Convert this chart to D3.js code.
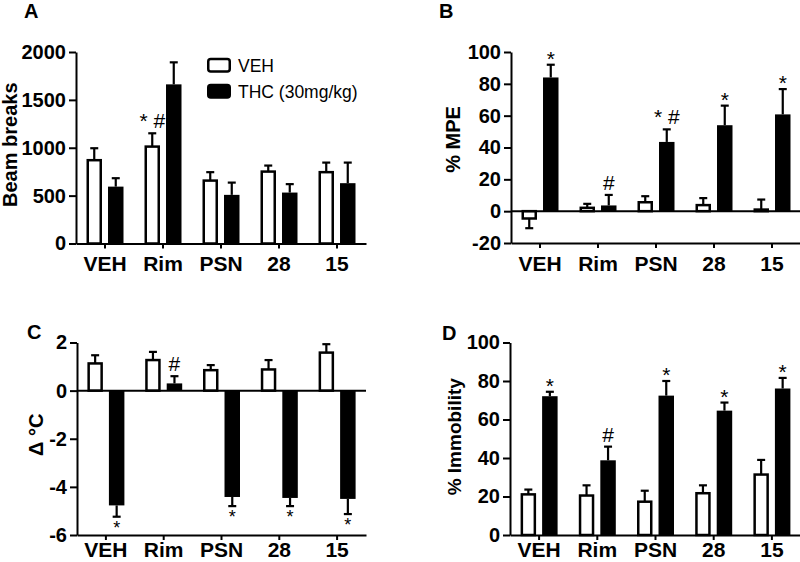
<!DOCTYPE html>
<html>
<head>
<meta charset="utf-8">
<script src="https://cdn.jsdelivr.net/npm/d3@7"></script>
<style>
  html, body { margin: 0; padding: 0; background: #fff; }
  svg { display: block; }
  text { font-family: "Liberation Sans", Arial, Helvetica, sans-serif; }
</style>
</head>
<body>
<svg id="chart" width="800" height="562"></svg>
<script>
// ---------- DATA ----------
const categories = ["VEH", "Rim", "PSN", "28", "15"];
const groups = ["VEH", "THC (30mg/kg)"];

// Panel A: Beam breaks
const beamVeh    = [870, 1012, 657, 751, 745];
const beamVehErr = [125, 139, 88, 63, 100];
const beamThc    = [594, 1662, 508, 532, 630];
const beamThcErr = [88, 230, 128, 88, 215];
const beamVehMarks = ["", "* #", "", "", ""];
const beamThcMarks = ["", "", "", "", ""];
const beamTicks = [0, 500, 1000, 1500, 2000];

// Panel B: % MPE
const mpeVeh    = [-4.6, 2.1, 5.6, 3.8, 1.0];
const mpeVehErr = [6.1, 2.5, 3.8, 4.4, 6.3];
const mpeThc    = [84, 3.6, 43.5, 54, 60.8];
const mpeThcErr = [8, 6.6, 7.9, 12.3, 15.9];
const mpeVehMarks = ["", "", "", "", ""];
const mpeThcMarks = ["*", "#", "* #", "*", "*"];
const mpeTicks = [-20, 0, 20, 40, 60, 80, 100];

// Panel C: delta temperature
const tempVeh    = [1.13, 1.27, 0.85, 0.88, 1.58];
const tempVehErr = [0.34, 0.34, 0.21, 0.39, 0.35];
const tempThc    = [-4.77, 0.3, -4.42, -4.46, -4.5];
const tempThcErr = [0.47, 0.3, 0.38, 0.34, 0.63];
const tempVehMarks = ["", "", "", "", ""];
const tempThcMarks = ["*", "#", "*", "*", "*"];
const tempTicks = [-6, -4, -2, 0, 2];

// Panel D: % Immobility
const immVeh    = [21.1, 20.5, 17.3, 21.7, 31.4];
const immVehErr = [2.5, 5.3, 5.7, 4.1, 7.6];
const immThc    = [72.1, 38.8, 72.4, 64.6, 76.1];
const immThcErr = [2.3, 7.1, 7.6, 4.2, 5.5];
const immVehMarks = ["", "", "", "", ""];
const immThcMarks = ["*", "#", "*", "*", "*"];
const immTicks = [0, 20, 40, 60, 80, 100];

// ---------- DRAW ----------
const svg = d3.select("#chart");

function panel(cfg) {
  const x = d3.scaleBand().domain(categories).range([cfg.x0, cfg.x1]);
  const inner = d3.scaleBand().domain(groups).range([-18.5, 18.5]).paddingInner(0.28);
  const y = d3.scaleLinear().domain(cfg.domain).range([cfg.yb, cfg.yt]);
  const g = svg.append("g");

  const series = [
    { key: groups[0], vals: cfg.veh, errs: cfg.vehErr, marks: cfg.vehMarks, fill: "#fff" },
    { key: groups[1], vals: cfg.thc, errs: cfg.thcErr, marks: cfg.thcMarks, fill: "#000" }
  ];

  series.forEach(s => {
    const rows = categories.map((c, i) => ({ c, v: s.vals[i], e: s.errs[i], m: s.marks[i] }));
    const cx = d => x(d.c) + x.bandwidth() / 2 + inner(s.key) + inner.bandwidth() / 2;
    const white = s.fill === "#fff";
    const sw = white ? 2.5 : 0;
    // error bars (outward side only)
    const eg = g.append("g").attr("stroke", "#000").attr("stroke-width", 2.2);
    rows.forEach(d => {
      const dir = d.v >= 0 ? 1 : -1;
      const y1 = y(d.v), y2 = y(d.v + dir * d.e);
      eg.append("line").attr("x1", cx(d)).attr("x2", cx(d)).attr("y1", y1).attr("y2", y2);
      eg.append("line").attr("x1", cx(d) - 4).attr("x2", cx(d) + 4).attr("y1", y2).attr("y2", y2);
    });
    // bars
    g.append("g").selectAll("rect").data(rows).join("rect")
      .attr("x", d => cx(d) - inner.bandwidth() / 2 + sw / 2)
      .attr("width", inner.bandwidth() - sw)
      .attr("y", d => Math.min(y(d.v), y(0)))
      .attr("height", d => Math.abs(y(d.v) - y(0)))
      .attr("fill", s.fill)
      .attr("stroke", white ? "#000" : "none")
      .attr("stroke-width", sw);
    // significance marks
    g.append("g").selectAll("text").data(rows.filter(d => d.m)).join("text")
      .attr("x", d => cx(d))
      .attr("y", d => {
        const dir = d.v >= 0 ? 1 : -1;
        const ye = y(d.v + dir * d.e);
        if (dir < 0) return ye + 17;
        return d.m === "*" ? ye + 1 : ye - 5;
      })
      .attr("text-anchor", "middle")
      .attr("font-size", d => d.v >= 0 ? 21 : 18)
      .text(d => d.m);
  });

  // zero line
  if (cfg.domain[0] < 0) {
    g.append("line").attr("x1", cfg.x0).attr("x2", cfg.x1)
      .attr("y1", y(0)).attr("y2", y(0)).attr("stroke", "#000").attr("stroke-width", 2);
  }

  // axes
  const ya = g.append("g").attr("transform", `translate(${cfg.x0},0)`)
    .call(d3.axisLeft(y).tickValues(cfg.ticks).tickFormat(d => String(d))
      .tickSize(7).tickPadding(3).tickSizeOuter(0));
  const xa = g.append("g").attr("transform", `translate(0,${cfg.yb})`)
    .call(d3.axisBottom(x).tickSize(5).tickPadding(cfg.xPad).tickSizeOuter(0));
  [ya, xa].forEach(a => {
    a.selectAll("path, line").attr("stroke", "#000").attr("stroke-width", 2);
    a.selectAll("text").attr("fill", "#000").attr("font-weight", "bold")
      .attr("font-family", "Liberation Sans, Arial, sans-serif");
  });
  ya.selectAll("text").attr("font-size", 20);
  xa.selectAll("text").attr("font-size", 21);

  // y title
  g.append("text")
    .attr("transform", `translate(${cfg.titleX},${(cfg.yb + cfg.yt) / 2 + cfg.titleDy}) rotate(-90)`)
    .attr("text-anchor", "middle").attr("font-weight", "bold").attr("font-size", cfg.titleSize)
    .text(cfg.title);

  // panel letter
  g.append("text").attr("x", cfg.lx).attr("y", cfg.ly)
    .attr("font-weight", "bold").attr("font-size", 20).text(cfg.letter);
}

panel({ letter: "A", lx: 24, ly: 18, x0: 76, x1: 366, yb: 243.5, yt: 52, domain: [0, 2000], ticks: beamTicks,
  veh: beamVeh, vehErr: beamVehErr, thc: beamThc, thcErr: beamThcErr, vehMarks: beamVehMarks, thcMarks: beamThcMarks,
  title: "Beam breaks", titleX: 17, titleDy: -3, titleSize: 20, xPad: 8 });
panel({ letter: "B", lx: 439, ly: 18, x0: 511, x1: 801, yb: 243, yt: 52, domain: [-20, 100], ticks: mpeTicks,
  veh: mpeVeh, vehErr: mpeVehErr, thc: mpeThc, thcErr: mpeThcErr, vehMarks: mpeVehMarks, thcMarks: mpeThcMarks,
  title: "% MPE", titleX: 460, titleDy: -8, titleSize: 20, xPad: 8 });
panel({ letter: "C", lx: 27, ly: 339, x0: 77, x1: 366, yb: 535, yt: 342.5, domain: [-6, 2], ticks: tempTicks,
  veh: tempVeh, vehErr: tempVehErr, thc: tempThc, thcErr: tempThcErr, vehMarks: tempVehMarks, thcMarks: tempThcMarks,
  title: "Δ °C", titleX: 43, titleDy: -4, titleSize: 20, xPad: 2.5 });
panel({ letter: "D", lx: 442, ly: 340, x0: 510, x1: 801, yb: 535, yt: 342.5, domain: [0, 100], ticks: immTicks,
  veh: immVeh, vehErr: immVehErr, thc: immThc, thcErr: immThcErr, vehMarks: immVehMarks, thcMarks: immThcMarks,
  title: "% Immobility", titleX: 461, titleDy: -2, titleSize: 19, xPad: 2.5 });

// legend
const legend = svg.append("g");
groups.forEach((gname, i) => {
  const ly = 59 + i * 26;
  legend.append("rect").attr("x", 208.25).attr("y", ly).attr("width", 21.5).attr("height", 12.5)
    .attr("rx", 2.5).attr("fill", i === 0 ? "#fff" : "#000").attr("stroke", "#000").attr("stroke-width", 2.5);
  legend.append("text").attr("x", 238).attr("y", ly + 12.5)
    .attr("font-size", 17.5).text(gname);
});
</script>
</body>
</html>
